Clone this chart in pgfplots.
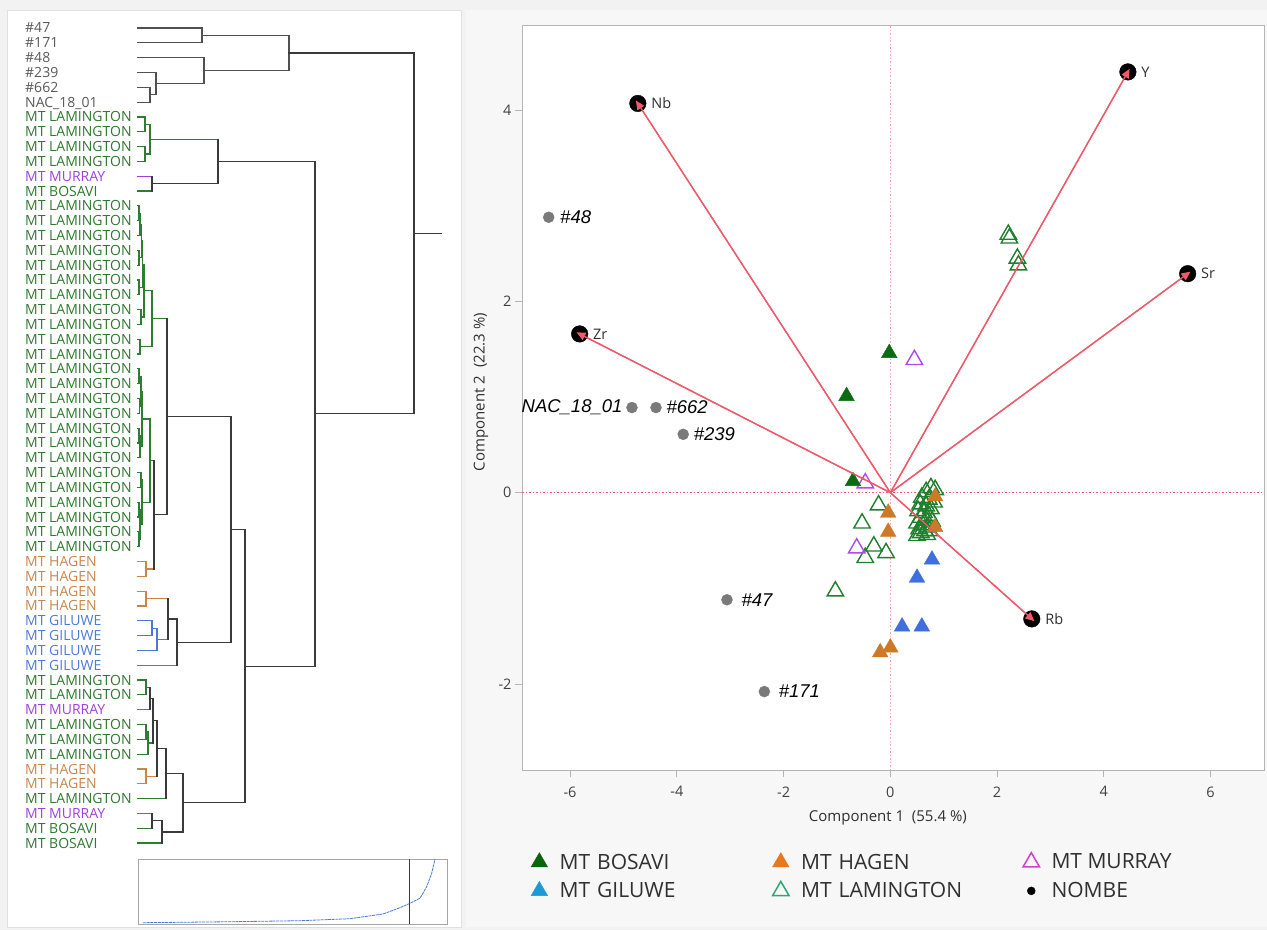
\documentclass[border=0pt]{standalone}
\usepackage{fontspec}
\setmainfont{Open Sans}
\newfontfamily\arialf{Liberation Sans}
\usepackage{pgfplots}
\pgfplotsset{compat=1.18}
\usetikzlibrary{arrows.meta}
\definecolor{bggray}{HTML}{F2F2F2}
\definecolor{panelgray}{HTML}{F7F7F7}
\definecolor{dtop}{HTML}{505050}
\definecolor{dgrn}{HTML}{2E7D32}
\definecolor{dpur}{HTML}{A040E0}
\definecolor{dora}{HTML}{CC8447}
\definecolor{dblu}{HTML}{4A78D8}
\definecolor{dblk}{HTML}{3A3A3A}
\definecolor{ltop}{HTML}{5A5A5A}
\definecolor{lgrn}{HTML}{2F7A2F}
\definecolor{lpur}{HTML}{A040E0}
\definecolor{lora}{HTML}{C9864E}
\definecolor{lblu}{HTML}{4D7BD9}
\definecolor{cbos}{HTML}{0B6B14}
\definecolor{chag}{HTML}{CD7A28}
\definecolor{cgil}{HTML}{3F6FDF}
\definecolor{clam}{HTML}{1E7F2C}
\definecolor{cmur}{HTML}{AC4CE8}
\definecolor{cnom}{HTML}{7A7A7A}
\definecolor{cred}{HTML}{F05A6A}
\definecolor{cpink}{HTML}{F6A8B0}
\definecolor{gbos}{HTML}{0A640A}
\definecolor{ghag}{HTML}{E8771E}
\definecolor{ggil}{HTML}{1A9AD6}
\definecolor{glam}{HTML}{2EA67A}
\definecolor{gmur}{HTML}{D43ED4}
\definecolor{framegray}{HTML}{B4B4B4}
\definecolor{ticktext}{HTML}{404040}
\definecolor{labtext}{HTML}{303030}
\definecolor{screeblue}{HTML}{4A78D8}
\newcommand{\Br}[6]{\addplot[#1] coordinates {(#2,#3)(#4,#3)(#4,#6)(#5,#6)};}
\newcommand{\Sg}[5]{\addplot[#1] coordinates {(#2,#3)(#4,#5)};}
\begin{document}
\begin{tikzpicture}
\useasboundingbox (0pt,0pt) rectangle (1267pt,930pt);
\fill[bggray] (0pt,0pt) rectangle (1267pt,930pt);
\fill[white, draw=black!12] (7pt,3pt) rectangle (461pt,920pt);
\fill[panelgray] (466pt,3pt) rectangle (1267pt,920pt);

% ---------------- dendrogram ----------------
\begin{axis}[at={(0pt,0pt)}, anchor=south west, scale only axis,
  width=467pt, height=930pt, xmin=0, xmax=467, ymin=0, ymax=930,
  y dir=reverse, hide axis, clip=false, no markers,
  every axis plot/.append style={line width=1.2pt, line join=miter, line cap=rect}]
% top group
\Br{dtop}{138}{28}{202}{138}{42.8}
\Br{dtop}{138}{87.3}{150}{138}{102.1}
\Br{dtop}{138}{72.5}{156}{150}{94.7}
\Br{dtop}{138}{57.6}{204}{156}{83.6}
\Br{dtop}{202}{35.4}{289}{204}{70.6}
% second group
\Br{dgrn}{138}{116.9}{145}{138}{131.7}
\Br{dgrn}{138}{146.6}{145}{138}{161.4}
\Br{dgrn}{145}{124.3}{150}{145}{154.0}
\Sg{dpur}{138}{176.2}{152}{176.2}
\Sg{dgrn}{138}{191.0}{152}{191.0}
\Sg{dblk}{152}{176.2}{152}{191.0}
\Sg{dgrn}{150}{139.2}{218}{139.2}
\Sg{dblk}{152}{183.6}{218}{183.6}
\Sg{dblk}{218}{139.2}{218}{183.6}
\Sg{dblk}{218}{161.4}{315}{161.4}
% big Lamington block
\Br{dgrn}{138}{205.8}{139}{138}{220.7}
\Br{dgrn}{139}{213.2}{140}{138}{235.5}
\Br{dgrn}{138}{250.3}{139}{138}{265.1}
\Br{dgrn}{140}{224.4}{141.5}{139}{257.7}
\Br{dgrn}{138}{279.9}{139}{138}{294.7}
\Br{dgrn}{141.5}{241.0}{142.5}{139}{287.3}
\Br{dgrn}{138}{309.6}{141}{138}{324.4}
\Br{dgrn}{142.5}{264.2}{144}{141}{317.0}
\Br{dgrn}{138}{339.2}{140}{138}{354.0}
\Br{dgrn}{144}{290.6}{152}{140}{346.6}
\Sg{dgrn}{152}{318.6}{167}{318.6}
\Br{dgrn}{138}{368.8}{139}{138}{383.6}
\Br{dgrn}{138}{398.5}{139.5}{138}{413.3}
\Br{dgrn}{139}{376.2}{141}{139.5}{405.9}
\Br{dgrn}{138}{428.1}{139}{138}{442.9}
\Br{dgrn}{139}{435.5}{140}{138}{457.7}
\Br{dgrn}{141}{391.1}{142}{140}{446.6}
\Br{dgrn}{138}{472.6}{141}{138}{487.4}
\Br{dgrn}{138}{502.2}{139}{138}{517.0}
\Br{dgrn}{138}{531.8}{139}{138}{546.6}
\Br{dgrn}{139}{509.6}{140}{139}{539.2}
\Br{dgrn}{141}{480.0}{142}{140}{524.4}
\Br{dgrn}{142}{418.9}{150}{142}{502.2}
\Sg{dgrn}{150}{460.6}{154}{460.6}
\Br{dora}{138}{561.5}{146}{138}{576.3}
\Sg{dora}{146}{568.9}{154}{568.9}
\Sg{dblk}{154}{460.6}{154}{568.9}
\Sg{dblk}{154}{514.8}{167}{514.8}
\Sg{dblk}{167}{318.6}{167}{514.8}
\Sg{dblk}{167}{416.7}{231}{416.7}
% Hagen / Giluwe
\Br{dora}{138}{591.1}{146}{138}{605.9}
\Sg{dora}{146}{598.5}{168}{598.5}
\Br{dblu}{138}{620.7}{152}{138}{635.5}
\Br{dblu}{152}{628.1}{157}{138}{650.4}
\Sg{dblu}{157}{639.3}{168}{639.3}
\Sg{dblk}{168}{598.5}{168}{639.3}
\Sg{dblk}{168}{618.9}{177}{618.9}
\Sg{dblu}{138}{665.2}{177}{665.2}
\Sg{dblk}{177}{618.9}{177}{665.2}
\Sg{dblk}{177}{642.1}{231}{642.1}
\Sg{dblk}{231}{416.7}{231}{642.1}
\Sg{dblk}{231}{529.4}{245}{529.4}
% bottom group
\Br{dgrn}{138}{680.0}{146}{138}{694.8}
\Sg{dgrn}{146}{687.4}{150}{687.4}
\Sg{dpur}{138}{709.6}{150}{709.6}
\Sg{dblk}{150}{687.4}{150}{709.6}
\Sg{dblk}{150}{698.5}{153}{698.5}
\Br{dgrn}{138}{724.5}{146}{138}{739.3}
\Br{dgrn}{146}{731.9}{148}{138}{754.1}
\Sg{dgrn}{148}{743.0}{153}{743.0}
\Sg{dblk}{153}{698.5}{153}{743.0}
\Sg{dblk}{153}{720.8}{157}{720.8}
\Br{dora}{138}{768.9}{146}{138}{783.7}
\Sg{dora}{146}{776.3}{157}{776.3}
\Sg{dblk}{157}{720.8}{157}{776.3}
\Sg{dblk}{157}{748.6}{166}{748.6}
\Sg{dgrn}{138}{798.5}{166}{798.5}
\Sg{dblk}{166}{748.6}{166}{798.5}
\Sg{dblk}{166}{773.6}{183}{773.6}
\Sg{dpur}{138}{813.4}{152}{813.4}
\Sg{dgrn}{138}{828.2}{152}{828.2}
\Sg{dblk}{152}{813.4}{152}{828.2}
\Sg{dblk}{152}{820.8}{162}{820.8}
\Sg{dgrn}{138}{843.0}{162}{843.0}
\Sg{dblk}{162}{820.8}{162}{843.0}
\Sg{dblk}{162}{831.9}{183}{831.9}
\Sg{dblk}{183}{773.6}{183}{831.9}
\Sg{dblk}{183}{802.8}{245}{802.8}
\Sg{dblk}{245}{529.4}{245}{802.8}
\Sg{dblk}{245}{666.1}{315}{666.1}
\Sg{dblk}{315}{161.4}{315}{666.1}
\Sg{dblk}{315}{413.8}{414}{413.8}
\Sg{dblk}{289}{53.0}{414}{53.0}
\Sg{dblk}{414}{53.0}{414}{413.8}
\Sg{dblk}{414}{233.4}{441}{233.4}
\end{axis}

\foreach \i/\t/\c in {1/\#47/ltop, 2/\#171/ltop, 3/\#48/ltop, 4/\#239/ltop, 5/\#662/ltop, 6/NAC\_18\_01/ltop,
 7/MT LAMINGTON/lgrn, 8/MT LAMINGTON/lgrn, 9/MT LAMINGTON/lgrn, 10/MT LAMINGTON/lgrn,
 11/MT MURRAY/lpur, 12/MT BOSAVI/lgrn,
 13/MT LAMINGTON/lgrn, 14/MT LAMINGTON/lgrn, 15/MT LAMINGTON/lgrn, 16/MT LAMINGTON/lgrn,
 17/MT LAMINGTON/lgrn, 18/MT LAMINGTON/lgrn, 19/MT LAMINGTON/lgrn, 20/MT LAMINGTON/lgrn,
 21/MT LAMINGTON/lgrn, 22/MT LAMINGTON/lgrn, 23/MT LAMINGTON/lgrn, 24/MT LAMINGTON/lgrn,
 25/MT LAMINGTON/lgrn, 26/MT LAMINGTON/lgrn, 27/MT LAMINGTON/lgrn, 28/MT LAMINGTON/lgrn,
 29/MT LAMINGTON/lgrn, 30/MT LAMINGTON/lgrn, 31/MT LAMINGTON/lgrn, 32/MT LAMINGTON/lgrn,
 33/MT LAMINGTON/lgrn, 34/MT LAMINGTON/lgrn, 35/MT LAMINGTON/lgrn, 36/MT LAMINGTON/lgrn,
 37/MT HAGEN/lora, 38/MT HAGEN/lora, 39/MT HAGEN/lora, 40/MT HAGEN/lora,
 41/MT GILUWE/lblu, 42/MT GILUWE/lblu, 43/MT GILUWE/lblu, 44/MT GILUWE/lblu,
 45/MT LAMINGTON/lgrn, 46/MT LAMINGTON/lgrn, 47/MT MURRAY/lpur, 48/MT LAMINGTON/lgrn,
 49/MT LAMINGTON/lgrn, 50/MT LAMINGTON/lgrn, 51/MT HAGEN/lora, 52/MT HAGEN/lora,
 53/MT LAMINGTON/lgrn, 54/MT MURRAY/lpur, 55/MT BOSAVI/lgrn, 56/MT BOSAVI/lgrn}
 {\node[anchor=base west, inner sep=0pt, text=\c, font=\fontsize{14}{14}\selectfont] at (25pt,{(897-(\i-1)*14.82)*1pt}) {\t};}

% ---------------- scree plot ----------------
\begin{axis}[at={(138pt,6pt)}, anchor=south west, scale only axis,
  width=309pt, height=65pt, xmin=0, xmax=309, ymin=0, ymax=65,
  ticks=none, axis line style={draw=black!35, line width=0.8pt},
  axis background/.style={fill=white}, no markers]
\addplot[screeblue, line width=0.8pt, dash pattern=on 3pt off 0.7pt] coordinates {
 (5,1.3)(95,2.3)(162,3.3)(212,5.3)(245,10)(262,16.3)(272,20.7)(282,25.7)(288.7,37.3)(293.7,50.7)(297,65)};
\addplot[dblk, line width=1.5pt] coordinates {(271.3,0)(271.3,65)};
\end{axis}

% ---------------- biplot ----------------
\begin{axis}[at={(522pt,160pt)}, anchor=south west, scale only axis,
  width=742pt, height=744pt,
  xmin=-6.9, xmax=7.0, ymin=-2.9, ymax=4.88,
  clip mode=individual, clip marker paths=true,
  axis background/.style={fill=white},
  axis line style={draw=framegray, line width=1pt},
  xtick={-6,-4,-2,0,2,4,6}, ytick={-2,0,2,4},
  tick align=outside, tick pos=left, major tick length=7pt,
  tick style={draw=framegray, line width=0.8pt},
  ticklabel style={font=\fontsize{14.5}{15}\selectfont, text=ticktext},
  xticklabel style={yshift=-6pt},
  /pgf/number format/assume math mode=true,
  xlabel={Component 1\ \ (55.4 \%)}, ylabel={Component 2\ \ (22.3 \%)},
  label style={font=\fontsize{15}{16}\selectfont, text=labtext},
  xlabel style={at={(axis description cs:0.493,-0.065)}, anchor=center},
  ylabel style={at={(axis description cs:-0.0553,0.508)}, anchor=center},
  legend columns=3, legend cell align=left,
  legend style={at={(axis description cs:0.008,-0.107)}, anchor=north west,
    draw=none, fill=none, font=\fontsize{21}{23}\selectfont, text=labtext,
    /tikz/every odd column/.append style={column sep=10pt},
    /tikz/column 2/.style={text width=211pt},
    /tikz/column 4/.style={text width=220pt}, row sep=8pt},
  ]
\addlegendimage{only marks, mark=triangle*, mark size=9.5, color=gbos}
\addlegendentry{MT BOSAVI}
\addlegendimage{only marks, mark=triangle*, mark size=9.5, color=ghag}
\addlegendentry{MT HAGEN}
\addlegendimage{only marks, mark=triangle, mark size=9.5, line width=1.5pt, color=gmur}
\addlegendentry{MT MURRAY}
\addlegendimage{only marks, mark=triangle*, mark size=9.5, color=ggil}
\addlegendentry{MT GILUWE}
\addlegendimage{only marks, mark=triangle, mark size=9.5, line width=1.5pt, color=glam}
\addlegendentry{MT LAMINGTON}
\addlegendimage{only marks, mark=*, mark size=4, color=black}
\addlegendentry{NOMBE}

% zero lines
\addplot[forget plot, cpink, line width=1.3pt, dash pattern=on 1.5pt off 2pt] coordinates {(0,-2.9)(0,4.88)};
\addplot[forget plot, cred, line width=1.3pt, dash pattern=on 1.5pt off 2pt] coordinates {(-6.9,0)(7.0,0)};
% loading lines
\addplot[forget plot, cred, line width=1.3pt] coordinates {(0,0)(-4.73,4.07)};
\addplot[forget plot, cred, line width=1.3pt] coordinates {(0,0)(4.45,4.40)};
\addplot[forget plot, cred, line width=1.3pt] coordinates {(0,0)(5.57,2.29)};
\addplot[forget plot, cred, line width=1.3pt] coordinates {(0,0)(-5.82,1.66)};
\addplot[forget plot, cred, line width=1.3pt] coordinates {(0,0)(2.65,-1.32)};

% MT LAMINGTON
\addplot[forget plot, only marks, mark=triangle, mark size=9.5, line width=1.4pt, color=clam] coordinates {
 (0.76,0.05)(0.84,0.03)(0.67,0.01)(0.59,-0.05)(0.72,-0.07)(0.82,-0.10)(0.56,-0.12)(0.67,-0.14)
 (0.76,-0.17)(0.52,-0.19)(0.63,-0.21)(0.72,-0.24)(0.57,-0.26)(0.67,-0.29)(0.78,-0.30)(0.50,-0.32)
 (0.61,-0.34)(0.70,-0.36)(0.54,-0.38)(0.65,-0.40)(0.74,-0.40)(0.57,-0.42)(0.69,-0.44)(0.50,-0.45)
 (2.21,2.70)(2.23,2.66)(2.38,2.45)(2.40,2.38)
 (-0.22,-0.13)(-0.53,-0.32)(-0.31,-0.56)(-0.47,-0.68)(-0.08,-0.63)(-1.03,-1.03)};
% MT MURRAY
\addplot[forget plot, only marks, mark=triangle, mark size=9.5, line width=1.4pt, color=cmur] coordinates {
 (0.45,1.39)(-0.47,0.10)(-0.63,-0.58)};
% MT HAGEN
\addplot[forget plot, only marks, mark=triangle*, mark size=9, color=chag] coordinates {
 (-0.04,-0.21)(-0.04,-0.41)(0.84,-0.04)(0.84,-0.36)(-0.19,-1.67)(0.0,-1.62)};
% MT GILUWE
\addplot[forget plot, only marks, mark=triangle*, mark size=9, color=cgil] coordinates {
 (0.78,-0.70)(0.50,-0.89)(0.22,-1.40)(0.59,-1.40)};
% MT BOSAVI
\addplot[forget plot, only marks, mark=triangle*, mark size=9, color=cbos] coordinates {
 (-0.02,1.46)(-0.82,1.01)(-0.70,0.12)};
% NOMBE
\addplot[forget plot, only marks, mark=*, mark size=5.5, color=cnom] coordinates {
 (-6.40,2.88)(-4.84,0.89)(-4.39,0.89)(-3.88,0.61)(-3.06,-1.12)(-2.36,-2.08)};
% loading markers: black disc, then red arrow heads on top
\addplot[forget plot, only marks, mark=*, mark size=8.3, color=black] coordinates {
 (-4.73,4.07)(4.45,4.40)(5.57,2.29)(-5.82,1.66)(2.65,-1.32)};
\addplot[forget plot, cred, line width=1.3pt, -{Triangle[length=9pt,width=8pt]}, shorten >=-3.5pt] coordinates {(0,0)(-4.73,4.07)};
\addplot[forget plot, cred, line width=1.3pt, -{Triangle[length=9pt,width=8pt]}, shorten >=-3.5pt] coordinates {(0,0)(4.45,4.40)};
\addplot[forget plot, cred, line width=1.3pt, -{Triangle[length=9pt,width=8pt]}, shorten >=-3.5pt] coordinates {(0,0)(5.57,2.29)};
\addplot[forget plot, cred, line width=1.3pt, -{Triangle[length=9pt,width=8pt]}, shorten >=-3.5pt] coordinates {(0,0)(-5.82,1.66)};
\addplot[forget plot, cred, line width=1.3pt, -{Triangle[length=9pt,width=8pt]}, shorten >=-3.5pt] coordinates {(0,0)(2.65,-1.32)};

% labels
\node[anchor=west, xshift=10pt, font=\fontsize{14.5}{15}\selectfont, text=labtext] at (axis cs:-4.73,4.07) {Nb};
\node[anchor=west, xshift=10pt, font=\fontsize{14.5}{15}\selectfont, text=labtext] at (axis cs:4.45,4.40) {Y};
\node[anchor=west, xshift=10pt, font=\fontsize{14.5}{15}\selectfont, text=labtext] at (axis cs:5.57,2.29) {Sr};
\node[anchor=west, xshift=10pt, font=\fontsize{14.5}{15}\selectfont, text=labtext] at (axis cs:-5.82,1.66) {Zr};
\node[anchor=west, xshift=10pt, font=\fontsize{14.5}{15}\selectfont, text=labtext] at (axis cs:2.65,-1.32) {Rb};
\node[anchor=west, xshift=8pt, font=\arialf\itshape\fontsize{18.5}{19}\selectfont] at (axis cs:-6.40,2.88) {\#48};
\node[anchor=east, xshift=-6pt, font=\arialf\itshape\fontsize{18.5}{19}\selectfont] at (axis cs:-4.84,0.89) {NAC\_18\_01};
\node[anchor=west, xshift=7pt, font=\arialf\itshape\fontsize{18.5}{19}\selectfont] at (axis cs:-4.39,0.89) {\#662};
\node[anchor=west, xshift=7pt, font=\arialf\itshape\fontsize{18.5}{19}\selectfont] at (axis cs:-3.88,0.61) {\#239};
\node[anchor=west, xshift=11pt, font=\arialf\itshape\fontsize{18.5}{19}\selectfont] at (axis cs:-3.06,-1.12) {\#47};
\node[anchor=west, xshift=11pt, font=\arialf\itshape\fontsize{18.5}{19}\selectfont] at (axis cs:-2.36,-2.08) {\#171};
\end{axis}
\end{tikzpicture}
\end{document}
